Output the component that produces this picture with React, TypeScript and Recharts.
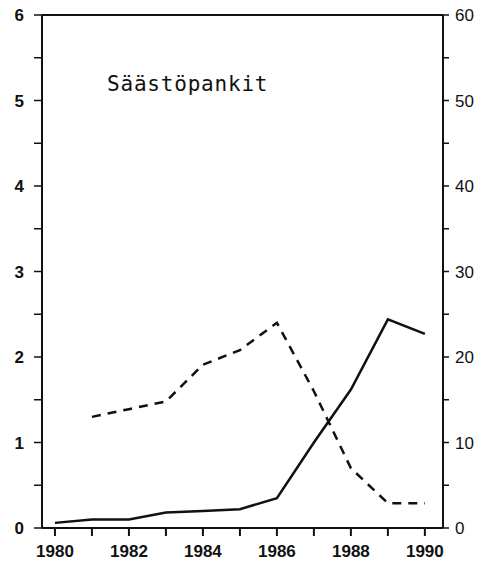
// Säästöpankit – two series on twin axes (left 0–6, right 0–60).
import { ComposedChart, Line, XAxis, YAxis, ReferenceLine } from "recharts";

const years = [1980, 1981, 1982, 1983, 1984, 1985, 1986, 1987, 1988, 1989, 1990];
// solid line, left scale
const solid = [0.06, 0.1, 0.1, 0.18, 0.2, 0.22, 0.35, 1.0, 1.62, 2.44, 2.27];
// dashed line, right scale (no value for 1980)
const dashed = [null, 13.0, 13.9, 14.8, 19.1, 20.8, 24.0, 16.0, 7.0, 2.9, 2.9];

const xTicks = years;
const leftTicks = [0, 0.5, 1, 1.5, 2, 2.5, 3, 3.5, 4, 4.5, 5, 5.5, 6];
const rightTicks = [0, 5, 10, 15, 20, 25, 30, 35, 40, 45, 50, 55, 60];
const title = "Säästöpankit";

const INK = "#111";
const tickFont = { fill: INK, fontSize: 17, fontWeight: 700, fontFamily: "Liberation Sans, Arial, sans-serif" };

export default function App() {
  const rows = years.map((y, i) => ({ year: y, solid: solid[i], dashed: dashed[i] }));
  return (
    <div style={{ position: "absolute", left: 0, top: 0, width: 488, height: 568, background: "#fff" }}>
      <ComposedChart width={488} height={568} data={rows} margin={{ top: 15, right: 0, bottom: 0, left: 0 }}>
        <XAxis
          dataKey="year" type="number" domain={[1979.65, 1990.49]} ticks={xTicks} interval={0}
          tickFormatter={(v) => (v % 2 === 0 ? String(v) : "")}
          height={40} tick={tickFont} tickSize={8} tickMargin={9}
          axisLine={{ stroke: INK, strokeWidth: 2 }} tickLine={{ stroke: INK, strokeWidth: 2 }}
        />
        <YAxis
          yAxisId="left" domain={[0, 6]} ticks={leftTicks} interval={0} width={42}
          tickFormatter={(v) => (Number.isInteger(v) ? String(v) : "")}
          tick={tickFont} tickSize={8} tickMargin={10}
          axisLine={{ stroke: INK, strokeWidth: 2 }} tickLine={{ stroke: INK, strokeWidth: 1.5 }}
        />
        <YAxis
          yAxisId="right" orientation="right" domain={[0, 60]} ticks={rightTicks} interval={0} width={45}
          tickFormatter={(v) => (v % 10 === 0 ? String(v) : "")}
          tick={{ ...tickFont, fontWeight: 400 }} tickSize={6} tickMargin={6}
          axisLine={{ stroke: INK, strokeWidth: 2 }} tickLine={{ stroke: INK, strokeWidth: 1.5 }}
        />
        <ReferenceLine yAxisId="left" y={6} stroke={INK} strokeWidth={2} />
        <Line
          yAxisId="left" dataKey="solid" type="linear" stroke={INK} strokeWidth={2.5}
          dot={false} isAnimationActive={false}
        />
        <Line
          yAxisId="right" dataKey="dashed" type="linear" stroke={INK} strokeWidth={2.5}
          strokeDasharray="9 7" dot={false} connectNulls={false} isAnimationActive={false}
        />
      </ComposedChart>
      <div
        style={{
          position: "absolute", left: 107, top: 74,
          fontFamily: "DejaVu Sans Mono, monospace", fontSize: 21, color: INK,
          letterSpacing: "0.8px", lineHeight: 1,
        }}
      >
        {title}
      </div>
    </div>
  );
}
